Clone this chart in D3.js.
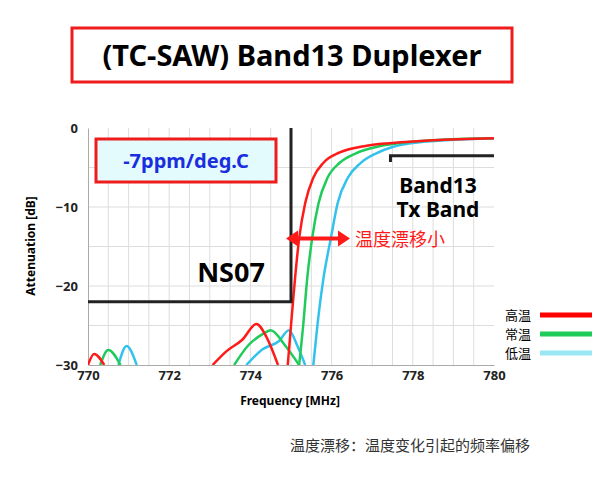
<!DOCTYPE html>
<html><head><meta charset="utf-8">
<script src="https://cdn.jsdelivr.net/npm/d3@7"></script>
<style>body{margin:0;background:#fff;font-family:"Noto Sans","Noto Sans CJK SC",sans-serif}</style>
</head><body>
<svg id="chart" width="600" height="480"></svg>
<script>
// values
const xTicks = [770, 772, 774, 776, 778, 780];
const yTicks = [0, -10, -20, -30];
const redMain = [[774.92,-30],[775.0,-25],[775.1,-19],[775.2,-14],[775.35,-9.5],[775.55,-6.3],[775.8,-4.4],[776.2,-3.1],[776.8,-2.3],[777.5,-1.9],[778.5,-1.55],[780,-1.3]];
const greenMain = [[775.2,-30],[775.3,-25],[775.4,-19],[775.52,-14],[775.68,-9.5],[775.9,-6.3],[776.2,-4.4],[776.6,-3.2],[777.1,-2.4],[777.7,-1.9],[778.5,-1.55],[780,-1.3]];
const cyanMain = [[775.55,-30],[775.65,-25],[775.8,-19],[775.98,-14],[776.15,-9.5],[776.4,-6.3],[776.7,-4.5],[777.1,-3.2],[777.5,-2.4],[778,-1.9],[778.8,-1.55],[780,-1.3]];
const redLobes = [[[770,-30],[770.15,-28.6],[770.4,-30]], [[773.07,-30],[773.4,-28.3],[773.8,-26.8],[774.15,-24.8],[774.4,-26.5],[774.68,-30]]];
const greenLobes = [[[770.3,-30],[770.5,-28.1],[770.8,-30]], [[773.6,-30],[773.95,-27.5],[774.3,-26.1],[774.5,-25.6],[774.85,-27.5],[775.2,-30]]];
const cyanLobes = [[[770.75,-30],[770.95,-27.6],[771.2,-30]], [[773.9,-30],[774.3,-28],[774.7,-27],[774.95,-25.6],[775.15,-27.5],[775.35,-30]]];
const maskNS07 = [[770,-22],[775,-22],[775,0]];
const maskTx = [[777.45,-4.3],[777.45,-3.5],[780,-3.5]];
const legendNames = ["高温", "常温", "低温"];
const colors = ["#ff1a1a", "#1fcc5a", "#33c2ee"];
const legendColors = ["#ff0000", "#1fcc5a", "#99e6f5"];

const svg = d3.select("#chart");
const x = d3.scaleLinear().domain([770, 780]).range([88, 494]);
const y = d3.scaleLinear().domain([0, -30]).range([128, 365]);

// title box
svg.append("rect").attr("x", 72).attr("y", 28).attr("width", 440).attr("height", 54)
    .attr("fill", "#fff").attr("stroke", "#ee1c1c").attr("stroke-width", 3);
svg.append("text").attr("x", 292).attr("y", 66).attr("text-anchor", "middle")
    .attr("font-size", 29).attr("font-weight", "bold").text("(TC-SAW) Band13 Duplexer");

// grid
svg.append("g").selectAll("line").data(d3.range(770.5, 780, 0.5)).join("line")
    .attr("x1", d => x(d)).attr("x2", d => x(d)).attr("y1", y(0)).attr("y2", y(-30))
    .attr("stroke", "#ddd");
svg.append("g").selectAll("line").data(d3.range(-5, -30, -5)).join("line")
    .attr("x1", x(770)).attr("x2", x(780)).attr("y1", d => y(d)).attr("y2", d => y(d))
    .attr("stroke", "#ddd");

// axes
const gx = svg.append("g").attr("transform", `translate(0,${y(-30)})`)
    .call(d3.axisBottom(x).tickValues(xTicks).tickSize(0).tickPadding(6));
const gy = svg.append("g").attr("transform", `translate(${x(770)},0)`)
    .call(d3.axisLeft(y).tickValues(yTicks).tickSize(0).tickPadding(10));
[gx, gy].forEach(g => {
    g.select(".domain").attr("stroke", "#aaa");
    g.selectAll("text").attr("font-size", 13).attr("font-weight", "bold").attr("fill", "#222")
        .attr("font-family", "Noto Sans");
});
svg.append("text").attr("x", 290).attr("y", 405).attr("text-anchor", "middle")
    .attr("font-size", 12).attr("font-weight", "bold").text("Frequency [MHz]");
svg.append("text").attr("transform", "translate(35,246) rotate(-90)").attr("text-anchor", "middle")
    .attr("font-size", 12).attr("font-weight", "bold").text("Attenuation [dB]");

// clip curves to plot
svg.append("clipPath").attr("id", "plot").append("rect")
    .attr("x", x(770)).attr("y", y(0)).attr("width", x(780) - x(770)).attr("height", y(-30) - y(0));
const curve = d3.line().x(d => x(d[0])).y(d => y(d[1])).curve(d3.curveMonotoneX);
const plot = svg.append("g").attr("clip-path", "url(#plot)");
[[cyanLobes, cyanMain, colors[2]], [greenLobes, greenMain, colors[1]], [redLobes, redMain, colors[0]]]
    .forEach(([lobes, main, c]) => {
        lobes.concat([main]).forEach(seg => plot.append("path").attr("d", curve(seg))
            .attr("fill", "none").attr("stroke", c).attr("stroke-width", 2.5));
    });

// masks
const straight = d3.line().x(d => x(d[0])).y(d => y(d[1]));
[maskNS07, maskTx].forEach(m => svg.append("path").attr("d", straight(m))
    .attr("fill", "none").attr("stroke", "#222").attr("stroke-width", 3));

// ppm box
svg.append("rect").attr("x", 96).attr("y", 139).attr("width", 180).attr("height", 43)
    .attr("fill", "#e3fbfd").attr("stroke", "#ee1c1c").attr("stroke-width", 3);
svg.append("text").attr("x", 186).attr("y", 168).attr("text-anchor", "middle")
    .attr("font-size", 20).attr("font-weight", "bold").attr("fill", "#1a2ee0").text("-7ppm/deg.C");

// labels
svg.append("text").attr("x", 231).attr("y", 282).attr("text-anchor", "middle")
    .attr("font-size", 27).attr("font-weight", "bold").text("NS07");
svg.append("text").attr("x", 438).attr("y", 193).attr("text-anchor", "middle")
    .attr("font-size", 21).attr("font-weight", "bold").text("Band13");
svg.append("text").attr("x", 438).attr("y", 217).attr("text-anchor", "middle")
    .attr("font-size", 21).attr("font-weight", "bold").text("Tx Band");

// arrow
const ay = y(-14);
svg.append("line").attr("x1", 296).attr("x2", 340).attr("y1", ay).attr("y2", ay)
    .attr("stroke", "#ff1a1a").attr("stroke-width", 4);
svg.append("path").attr("d", `M286,${ay} l12,-8 v16 z M350,${ay} l-12,-8 v16 z`).attr("fill", "#ff1a1a");
svg.append("text").attr("x", 355).attr("y", ay + 7).attr("font-size", 18).attr("fill", "#ff1a1a")
    .attr("font-family", "Noto Sans CJK SC").text("温度漂移小");

// legend
legendNames.forEach((n, i) => {
    const ly = 315 + i * 19;
    svg.append("text").attr("x", 505).attr("y", ly + 5).attr("font-size", 13)
        .attr("font-family", "Noto Sans CJK SC").text(n);
    svg.append("line").attr("x1", 540).attr("x2", 592).attr("y1", ly).attr("y2", ly)
        .attr("stroke", legendColors[i]).attr("stroke-width", 5);
});

svg.append("text").attr("x", 290).attr("y", 451).attr("font-size", 15).attr("fill", "#333")
    .attr("font-family", "Noto Sans CJK SC").text("温度漂移：温度变化引起的频率偏移");
</script>
</body></html>
